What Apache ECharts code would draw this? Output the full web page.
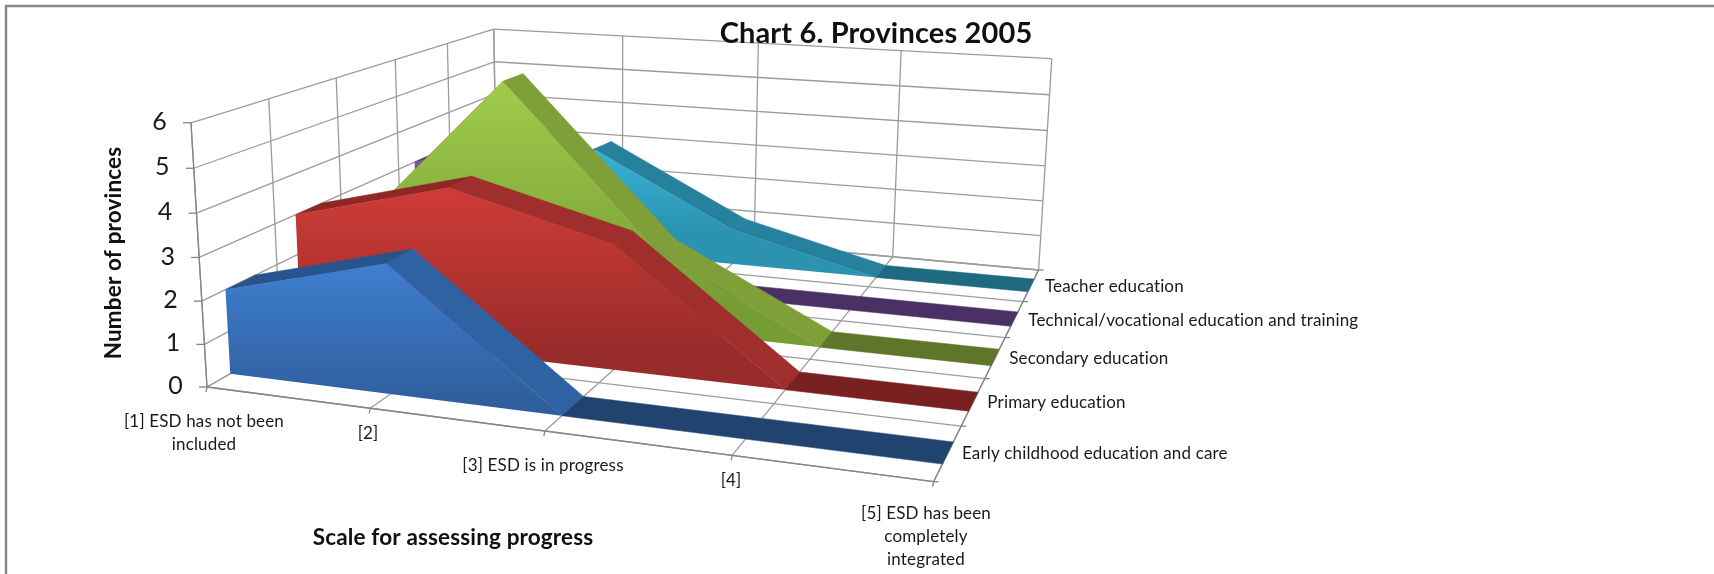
<!DOCTYPE html>
<html>
<head>
<meta charset="utf-8">
<style>html,body{margin:0;padding:0;background:#fff}#chart{width:1714px;height:574px}</style>
<script src="https://cdn.jsdelivr.net/npm/echarts@6/dist/echarts.min.js"></script>
</head>
<body>
<div id="chart"></div>
<script>
// Scale steps along the horizontal axis
const scaleSteps = ['[1] ESD has not been\nincluded', '[2]', '[3] ESD is in progress', '[4]', '[5] ESD has been\ncompletely\nintegrated'];
const valueTicks = [0, 1, 2, 3, 4, 5, 6];
const levelNames = ['Early childhood education and care', 'Primary education', 'Secondary education', 'Technical/vocational education and training', 'Teacher education'];

// Number of provinces per education level
const earlyChildhood = [2, 3, 0, 0, 0];
const primary = [3, 4, 3, 0, 0];
const secondary = [2, 6, 2, 0, 0];
const technical = [3, 4, 0, 0, 0];
const teacher = [1, 3, 1, 0, 0];

// Colours: face gradient top/bottom, rising top, falling top, flat top
const earlyColors = ['#3f7fd0', '#2f5e9c', '#28548d', '#2f62a2', '#21436f'];
const primaryColors = ['#cf3b38', '#982c2a', '#8e2726', '#9f2e2c', '#792120'];
const secondaryColors = ['#a0cc4b', '#769c35', '#76922f', '#7f9f39', '#5f752a'];
const technicalColors = ['#8058ab', '#5f4185', '#553a78', '#5f4387', '#4a3064'];
const teacherColors = ['#38b2d5', '#2b93b0', '#1f7f99', '#26829c', '#1f6a80'];

const seriesData = [earlyChildhood, primary, secondary, technical, teacher];
const seriesColors = [earlyColors, primaryColors, secondaryColors, technicalColors, teacherColors];

// Flat plotting rectangle that the hidden axes scale into; the oblique view is derived from it
const plot = { left: 100, top: 100, width: 800, height: 360 };

// Oblique view: floor corners on screen and the point where verticals converge
const floor = [[207, 387], [933.6, 481.7], [1038.6, 270], [497, 221]];
const vanish = [613, 7094];
const lift = -0.0379;
const heightTrim = 0.02;
const bandStart = 0.3, bandEnd = 0.7;

const H = (function () {
  const [[x0, y0], [x1, y1], [x2, y2], [x3, y3]] = floor;
  const dx1 = x1 - x2, dx2 = x3 - x2, sx = x0 - x1 + x2 - x3;
  const dy1 = y1 - y2, dy2 = y3 - y2, sy = y0 - y1 + y2 - y3;
  const den = dx1 * dy2 - dx2 * dy1;
  const g = (sx * dy2 - dx2 * sy) / den, h = (dx1 * sy - sx * dy1) / den;
  return { a: x1 - x0 + g * x1, b: x3 - x0 + h * x3, c: x0, d: y1 - y0 + g * y1, e: y3 - y0 + h * y3, f: y0, g, h };
})();

function project(u, v, z) {
  const k = z * lift * (1 - heightTrim * v);
  const w = H.g * u + H.h * v + 1 + k;
  return [(H.a * u + H.b * v + H.c + k * vanish[0]) / w, (H.d * u + H.e * v + H.f + k * vanish[1]) / w];
}

// Scale a step/value pair through the axes, then place it in the oblique view at a given depth
function toScreen(api, step, value, depth) {
  const p = api.coord([step, value]);
  const u = (p[0] - plot.left) / plot.width;
  const z = (plot.top + plot.height - p[1]) / plot.height;
  return project(u, depth / levelNames.length, z);
}

const GRID = '#9c9c9c', AXIS = '#858585', INK = '#1a1a1a';
const line = (a, b, stroke) => ({ type: 'line', shape: { x1: a[0], y1: a[1], x2: b[0], y2: b[1] }, style: { stroke, lineWidth: 1.3 } });
const label = (text, x, y, font, align, lineHeight) => ({
  type: 'text', x, y,
  style: { text, font, fill: INK, align, verticalAlign: 'middle', lineHeight }
});

function renderFrame(params, api) {
  if (params.dataIndex !== 0) return;
  const last = scaleSteps.length - 1, top = valueTicks[valueTicks.length - 1], depthN = levelNames.length;
  const children = [];
  // Walls and floor grid
  valueTicks.forEach(t => {
    const corner = toScreen(api, 0, t, depthN);
    children.push(line(toScreen(api, 0, t, 0), corner, GRID));
    children.push(line(corner, toScreen(api, last, t, depthN), GRID));
  });
  scaleSteps.forEach((_, i) => {
    children.push(line(toScreen(api, i, 0, depthN), toScreen(api, i, top, depthN), GRID));
    children.push(line(toScreen(api, i, 0, 0), toScreen(api, i, 0, depthN), GRID));
  });
  for (let d = 0; d <= depthN; d++) {
    children.push(line(toScreen(api, 0, 0, d), toScreen(api, 0, top, d), GRID));
    children.push(line(toScreen(api, 0, 0, d), toScreen(api, last, 0, d), GRID));
  }
  // Axis edges and tick marks
  const origin = toScreen(api, 0, 0, 0);
  children.push(line(origin, toScreen(api, 0, top, 0), AXIS));
  children.push(line(origin, toScreen(api, last, 0, 0), AXIS));
  children.push(line(toScreen(api, last, 0, 0), toScreen(api, last, 0, depthN), AXIS));
  valueTicks.forEach(t => {
    const p = toScreen(api, 0, t, 0);
    children.push(line([p[0] - 8, p[1]], p, AXIS));
    children.push(label(String(t), p[0] - 24, p[1] - 1, '25px Lato, sans-serif', 'right'));
  });
  scaleSteps.forEach((s, i) => {
    const p = toScreen(api, i, 0, 0);
    children.push(line(p, [p[0] - 1, p[1] + 5], AXIS));
  });
  for (let d = 0; d <= depthN; d++) {
    const p = toScreen(api, last, 0, d);
    children.push(line(p, [p[0] + 5, p[1]], AXIS));
  }
  const stepLabelAt = [[204, 433], [368, 434], [543, 466], [731, 481], [926, 537]];
  scaleSteps.forEach((s, i) => children.push(label(s, stepLabelAt[i][0], stepLabelAt[i][1], '17px Lato, sans-serif', 'center', 23)));
  levelNames.forEach((s, d) => {
    const p = toScreen(api, last, 0, d + 0.5);
    children.push(label(s, p[0] + 14, p[1] + 1, '17px Lato, sans-serif', 'left'));
  });
  return { type: 'group', children };
}

function renderLevel(levelIndex) {
  return function (params, api) {
    if (params.dataIndex !== 0) return;
    const values = seriesData[levelIndex], colors = seriesColors[levelIndex];
    const front = levelIndex + bandStart, back = levelIndex + bandEnd;
    const children = [];
    // Sloped top of the ribbon, one quad per step
    for (let i = 0; i < values.length - 1; i++) {
      const a = values[i], b = values[i + 1];
      const fill = b > a ? colors[2] : (b < a ? colors[3] : colors[4]);
      children.push({
        type: 'polygon',
        shape: { points: [toScreen(api, i, a, front), toScreen(api, i, a, back), toScreen(api, i + 1, b, back), toScreen(api, i + 1, b, front)] },
        style: { fill, stroke: fill, lineWidth: 0.5 }
      });
    }
    // Front face down to the floor
    const outline = values.map((v, i) => toScreen(api, i, v, front));
    const base = [toScreen(api, values.length - 1, 0, front), toScreen(api, 0, 0, front)];
    const ys = outline.concat(base).map(p => p[1]);
    children.push({
      type: 'polygon',
      shape: { points: outline.concat(base) },
      style: {
        fill: {
          type: 'linear', global: true,
          x: 0, y: Math.min.apply(null, ys), x2: 0, y2: Math.max.apply(null, ys) - 60,
          colorStops: [{ offset: 0, color: colors[0] }, { offset: 1, color: colors[1] }]
        }
      }
    });
    return { type: 'group', children };
  };
}

const axisBase = { show: false };
const levelSeries = levelNames.map((name, s) => ({
  name, type: 'custom', coordinateSystem: 'cartesian2d', silent: true,
  z: 10 - s,
  renderItem: renderLevel(s),
  data: seriesData[s].map((v, i) => [i, v]),
  clip: false
}));

// A little tracking on every canvas keeps "ti" as two separate letters in this typeface
const nativeGetContext = HTMLCanvasElement.prototype.getContext;
HTMLCanvasElement.prototype.getContext = function () {
  const ctx = nativeGetContext.apply(this, arguments);
  if (ctx && arguments[0] === '2d') ctx.letterSpacing = '0.15px';
  return ctx;
};

const chart = echarts.init(document.getElementById('chart'));
chart.setOption({
  animation: false,
  backgroundColor: '#fff',
  grid: { left: plot.left, top: plot.top, width: plot.width, height: plot.height },
  xAxis: Object.assign({ type: 'value', min: 0, max: scaleSteps.length - 1, interval: 1 }, axisBase),
  yAxis: Object.assign({ type: 'value', min: 0, max: 6, interval: 1 }, axisBase),
  graphic: [
    { type: 'rect', shape: { x: 6, y: 6, width: 1800, height: 640 }, style: { fill: 'none', stroke: '#878787', lineWidth: 2.4 }, z: 0 },
    { type: 'text', x: 876, y: 34, style: { text: 'Chart 6. Provinces 2005', font: 'bold 29px Lato, sans-serif', fill: '#111', align: 'center', verticalAlign: 'middle' }, z: 20 },
    { type: 'text', x: 114, y: 253, rotation: Math.PI / 2, style: { text: 'Number of provinces', font: 'bold 22.5px Lato, sans-serif', fill: '#111', align: 'center', verticalAlign: 'middle' }, z: 20 },
    { type: 'text', x: 453, y: 538, style: { text: 'Scale for assessing progress', font: 'bold 22.5px Lato, sans-serif', fill: '#111', align: 'center', verticalAlign: 'middle' }, z: 20 }
  ],
  series: [{
    type: 'custom', coordinateSystem: 'cartesian2d', silent: true, z: 1, clip: false,
    renderItem: renderFrame, data: [[0, 0]]
  }].concat(levelSeries)
});
</script>
</body>
</html>
